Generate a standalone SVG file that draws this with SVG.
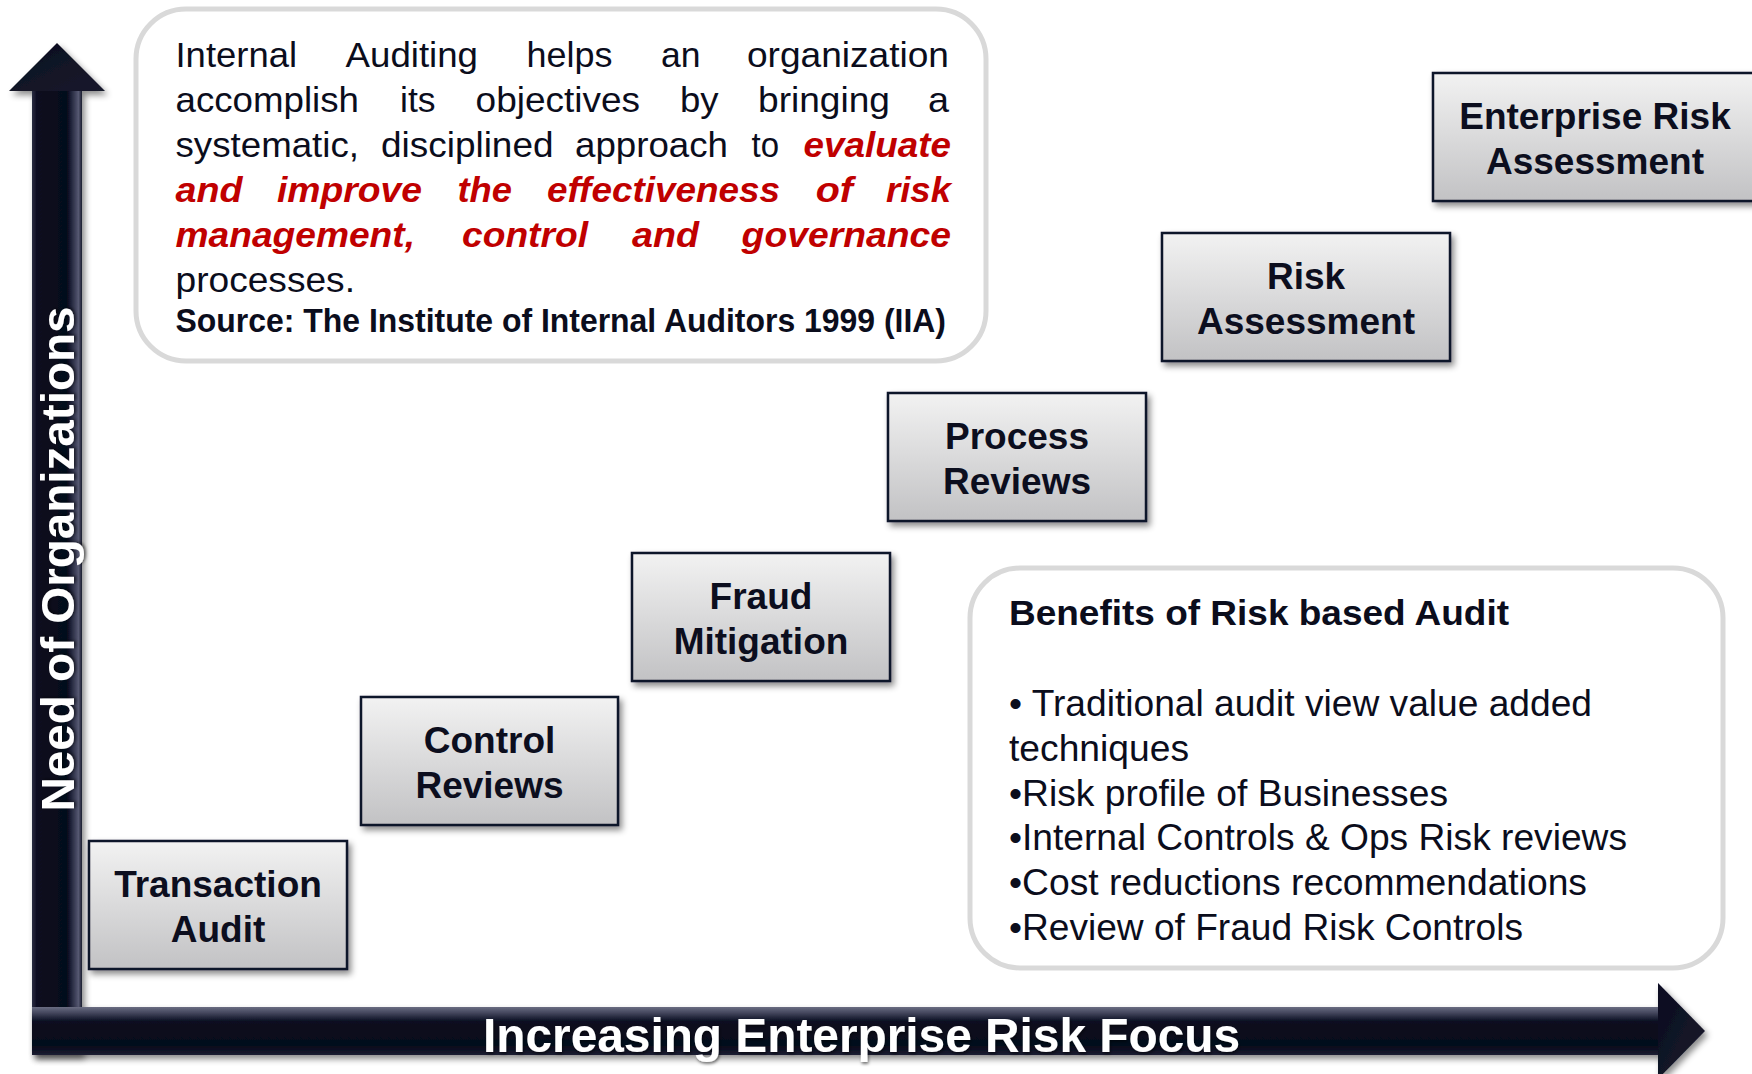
<svg xmlns="http://www.w3.org/2000/svg" width="1752" height="1074" viewBox="0 0 1752 1074">
<defs>
  <linearGradient id="boxFill" x1="0" y1="0" x2="0" y2="1">
    <stop offset="0" stop-color="#f2f2f2"/>
    <stop offset="1" stop-color="#c2c2c4"/>
  </linearGradient>
  <linearGradient id="vShaft" x1="0" y1="0" x2="1" y2="0">
    <stop offset="0" stop-color="#2a2d42"/>
    <stop offset="0.1" stop-color="#0b0d20"/>
    <stop offset="0.7" stop-color="#05071a"/>
    <stop offset="0.86" stop-color="#3c3f57"/>
    <stop offset="0.93" stop-color="#565972"/>
    <stop offset="1" stop-color="#1a1c2e"/>
  </linearGradient>
  <linearGradient id="hShaft" x1="0" y1="0" x2="0" y2="1">
    <stop offset="0" stop-color="#6a6d82"/>
    <stop offset="0.12" stop-color="#44475e"/>
    <stop offset="0.3" stop-color="#0b0d20"/>
    <stop offset="0.8" stop-color="#05071a"/>
    <stop offset="1" stop-color="#1c1e31"/>
  </linearGradient>
  <linearGradient id="headFill" x1="0" y1="0" x2="1" y2="1">
    <stop offset="0" stop-color="#0b0d20"/>
    <stop offset="1" stop-color="#181a2c"/>
  </linearGradient>
  <filter id="shadow" x="-10%" y="-10%" width="130%" height="130%">
    <feDropShadow dx="3" dy="4" stdDeviation="3" flood-color="#000" flood-opacity="0.45"/>
  </filter>
  <filter id="txtShadow" x="-5%" y="-20%" width="110%" height="150%">
    <feDropShadow dx="1" dy="2" stdDeviation="1.5" flood-color="#000" flood-opacity="0.5"/>
  </filter>
</defs>
<style>
  .panel { fill: #ffffff; stroke: #d9d9d9; stroke-width: 5; }
  .step rect { fill: url(#boxFill); stroke: #10132a; stroke-width: 2.5; filter: url(#shadow); }
  .step text { font-family: "Liberation Sans", Arial, sans-serif; font-weight: bold; font-size: 37px; fill: #0c0e1e; text-anchor: middle; }
  .q { font-family: "Liberation Sans", Arial, sans-serif; font-size: 35px; fill: #0b0d1c; }
  .qr { font-family: "Liberation Sans", Arial, sans-serif; font-size: 35px; fill: #c00000; font-weight: bold; font-style: italic; }
  .qs { font-family: "Liberation Sans", Arial, sans-serif; font-size: 34px; fill: #0b0d1c; font-weight: bold; }
  .bt { font-family: "Liberation Sans", Arial, sans-serif; font-size: 35px; fill: #0b0d1c; font-weight: bold; }
  .bl { font-family: "Liberation Sans", Arial, sans-serif; font-size: 36px; fill: #0b0d1c; }
  .axis { font-family: "Liberation Sans", Arial, sans-serif; font-weight: bold; fill: #ffffff; }
</style>

<!-- Axes (connectors) -->
<g id="connectors">
  <g id="y-axis" filter="url(#shadow)">
    <rect x="32" y="90" width="50" height="965" fill="url(#vShaft)"/>
    <polygon points="9,91 57,43 105,91" fill="url(#headFill)"/>
  </g>
  <g id="x-axis" filter="url(#shadow)">
    <rect x="32" y="1007" width="1627" height="48" fill="url(#hShaft)"/>
    <polygon points="1658,983 1705,1031 1658,1079" fill="url(#headFill)"/>
  </g>
  <text class="axis" font-size="46" transform="translate(74,559) rotate(-90)" text-anchor="middle" textLength="505" lengthAdjust="spacingAndGlyphs" filter="url(#txtShadow)">Need of Organizations</text>
  <text class="axis" font-size="48" x="861.5" y="1052" text-anchor="middle" textLength="757" lengthAdjust="spacingAndGlyphs" filter="url(#txtShadow)">Increasing Enterprise Risk Focus</text>
</g>

<!-- Definition panel -->
<g id="definition">
  <rect class="panel" x="136" y="9" width="850" height="352" rx="50" ry="50"/>
  <text class="q" x="175.5" y="67" textLength="121.5" lengthAdjust="spacingAndGlyphs">Internal</text>
  <text class="q" x="345.6" y="67" textLength="132.4" lengthAdjust="spacingAndGlyphs">Auditing</text>
  <text class="q" x="526.6" y="67" textLength="86" lengthAdjust="spacingAndGlyphs">helps</text>
  <text class="q" x="661" y="67" textLength="39.5" lengthAdjust="spacingAndGlyphs">an</text>
  <text class="q" x="747" y="67" textLength="202" lengthAdjust="spacingAndGlyphs">organization</text>

  <text class="q" x="175.5" y="112" textLength="183.5" lengthAdjust="spacingAndGlyphs">accomplish</text>
  <text class="q" x="400" y="112" textLength="35.5" lengthAdjust="spacingAndGlyphs">its</text>
  <text class="q" x="475.6" y="112" textLength="164.4" lengthAdjust="spacingAndGlyphs">objectives</text>
  <text class="q" x="680" y="112" textLength="38.6" lengthAdjust="spacingAndGlyphs">by</text>
  <text class="q" x="758" y="112" textLength="132" lengthAdjust="spacingAndGlyphs">bringing</text>
  <text class="q" x="928" y="112" textLength="21" lengthAdjust="spacingAndGlyphs">a</text>

  <text class="q" x="175.5" y="157" textLength="183.5" lengthAdjust="spacingAndGlyphs">systematic,</text>
  <text class="q" x="381" y="157" textLength="172.5" lengthAdjust="spacingAndGlyphs">disciplined</text>
  <text class="q" x="575" y="157" textLength="153" lengthAdjust="spacingAndGlyphs">approach</text>
  <text class="q" x="751.5" y="157" textLength="27.5" lengthAdjust="spacingAndGlyphs">to</text>
  <text class="qr" x="803.6" y="157" textLength="147.4" lengthAdjust="spacingAndGlyphs">evaluate</text>

  <text class="qr" x="175.5" y="202" textLength="67" lengthAdjust="spacingAndGlyphs">and</text>
  <text class="qr" x="277" y="202" textLength="145" lengthAdjust="spacingAndGlyphs">improve</text>
  <text class="qr" x="457.5" y="202" textLength="54.5" lengthAdjust="spacingAndGlyphs">the</text>
  <text class="qr" x="547" y="202" textLength="233" lengthAdjust="spacingAndGlyphs">effectiveness</text>
  <text class="qr" x="815.7" y="202" textLength="37.3" lengthAdjust="spacingAndGlyphs">of</text>
  <text class="qr" x="886" y="202" textLength="65" lengthAdjust="spacingAndGlyphs">risk</text>

  <text class="qr" x="175.5" y="247" textLength="239.5" lengthAdjust="spacingAndGlyphs">management,</text>
  <text class="qr" x="462" y="247" textLength="126" lengthAdjust="spacingAndGlyphs">control</text>
  <text class="qr" x="632" y="247" textLength="67" lengthAdjust="spacingAndGlyphs">and</text>
  <text class="qr" x="741.6" y="247" textLength="209.4" lengthAdjust="spacingAndGlyphs">governance</text>

  <text class="q" x="175.5" y="292" textLength="179.5" lengthAdjust="spacingAndGlyphs">processes.</text>
  <text class="qs" x="175.5" y="332" textLength="770.5" lengthAdjust="spacingAndGlyphs">Source: The Institute of Internal Auditors 1999 (IIA)</text>
</g>

<!-- Steps -->
<g id="transaction-audit" class="step">
  <rect x="89" y="841" width="258" height="128"/>
  <text x="218" y="897">Transaction</text>
  <text x="218" y="942">Audit</text>
</g>
<g id="control-reviews" class="step">
  <rect x="361" y="697" width="257" height="128"/>
  <text x="489.5" y="753">Control</text>
  <text x="489.5" y="798">Reviews</text>
</g>
<g id="fraud-mitigation" class="step">
  <rect x="632" y="553" width="258" height="128"/>
  <text x="761" y="609">Fraud</text>
  <text x="761" y="654">Mitigation</text>
</g>
<g id="process-reviews" class="step">
  <rect x="888" y="393" width="258" height="128"/>
  <text x="1017" y="449">Process</text>
  <text x="1017" y="494">Reviews</text>
</g>
<g id="risk-assessment" class="step">
  <rect x="1162" y="233" width="288" height="128"/>
  <text x="1306" y="289">Risk</text>
  <text x="1306" y="334">Assessment</text>
</g>
<g id="enterprise-risk-assessment" class="step">
  <rect x="1433" y="73" width="324" height="128"/>
  <text x="1595" y="129">Enterprise Risk</text>
  <text x="1595" y="174">Assessment</text>
</g>

<!-- Benefits panel -->
<g id="benefits">
  <rect class="panel" x="970" y="568" width="753" height="400" rx="50" ry="50"/>
  <text class="bt" x="1009" y="625" textLength="500" lengthAdjust="spacingAndGlyphs">Benefits of Risk based Audit</text>
  <text class="bl" x="1009" y="716" textLength="583" lengthAdjust="spacingAndGlyphs">• Traditional audit view value added</text>
  <text class="bl" x="1009" y="761" textLength="180" lengthAdjust="spacingAndGlyphs">techniques</text>
  <text class="bl" x="1009" y="806" textLength="439" lengthAdjust="spacingAndGlyphs">•Risk profile of Businesses</text>
  <text class="bl" x="1009" y="850" textLength="618" lengthAdjust="spacingAndGlyphs">•Internal Controls &amp; Ops Risk reviews</text>
  <text class="bl" x="1009" y="895" textLength="578" lengthAdjust="spacingAndGlyphs">•Cost reductions recommendations</text>
  <text class="bl" x="1009" y="940" textLength="514" lengthAdjust="spacingAndGlyphs">•Review of Fraud Risk Controls</text>
</g>
</svg>
